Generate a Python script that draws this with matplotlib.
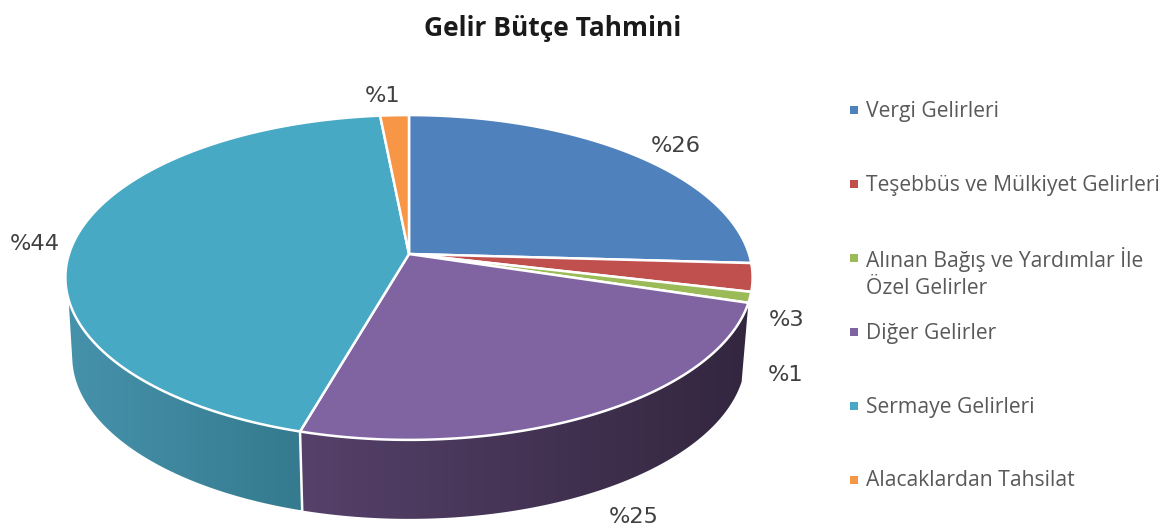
import numpy as np
from matplotlib import pyplot as plt
from matplotlib.colors import LinearSegmentedColormap
from matplotlib.patches import Polygon

title = "Gelir Bütçe Tahmini"
categories = ["Vergi Gelirleri", "Teşebbüs ve Mülkiyet Gelirleri",
              "Alınan Bağış ve Yardımlar İle\nÖzel Gelirler", "Diğer Gelirler",
              "Sermaye Gelirleri", "Alacaklardan Tahsilat"]
values = [25.9, 2.8, 1.05, 24.7, 44.0, 1.55]
value_labels = ["%26", "%3", "%1", "%25", "%44", "%1"]
colors = ["#4f81bd", "#c0504d", "#9bbb59", "#8064a2", "#48a9c5", "#f79646"]
# wall shading, from the right end of a slice to its left end
wall_colors = [None, None, None, ("#33263f", "#56416a"), ("#357a8e", "#4692ab"), None]

label_x = [676, 787, 786, 634, 35, 383]
label_y = [146, 320, 375, 517, 244, 96]
legend_y = [110, 184, 272, 332, 406, 480]

# perspective of the disc
cx, cy = 409, 254
rx, k = 340, 0.1446
ry = 159
depth = 79
base_scale = 0.98
# where the wall leaves the disc on the left, top rim and bottom rim
top_limit, base_limit = 254, 260


def project(theta, x_scale=1.0, dy=0):
    # theta in degrees, clockwise from the top of the pie
    t = np.radians(theta)
    u, v = np.sin(t), np.cos(t)
    return cx + x_scale * rx * u / (1 + k * v), cy + dy - ry * v / (1 + k * v)


fig = plt.figure(figsize=(11.72, 5.32), dpi=100)
ax = fig.add_axes([0, 0, 1, 1])

edges = 360 * np.cumsum([0] + values) / sum(values)

# side walls first, top face goes over them
for i, shades in enumerate(wall_colors):
    if shades is None:
        continue
    top_x, top_y = project(np.linspace(edges[i], min(edges[i + 1], top_limit), 200))
    base_x, base_y = project(np.linspace(min(edges[i + 1], base_limit), edges[i], 200),
                             base_scale, depth)
    wall = Polygon(np.column_stack([np.r_[top_x, base_x], np.r_[top_y, base_y]]),
                   closed=True, facecolor="none", edgecolor="none")
    ax.add_patch(wall)
    # left colour on the left of the image, right colour on the right
    cmap = LinearSegmentedColormap.from_list("wall", [shades[1], shades[0]])
    x_lo = min(top_x.min(), base_x.min())
    x_hi = max(top_x.max(), base_x.max())
    y_lo = min(top_y.min(), base_y.min())
    y_hi = max(top_y.max(), base_y.max())
    im = ax.imshow(np.linspace(0, 1, 256).reshape(1, -1), cmap=cmap, aspect="auto",
                   extent=(x_lo, x_hi, y_hi, y_lo), zorder=2)
    im.set_clip_path(wall)

# white line where two walls meet
x0, y0 = project(edges[4])
x1, y1 = project(edges[4], base_scale, depth)
ax.plot([x0, x1], [y0, y1], color="white", lw=1.8, zorder=3)

for i, c in enumerate(colors):
    steps = np.linspace(edges[i], edges[i + 1], 200)
    xs, ys = project(steps)
    pts = [(cx, cy)] + list(zip(xs, ys))
    ax.add_patch(Polygon(pts, closed=True, facecolor=c, edgecolor="white", lw=1.8,
                         joinstyle="round", zorder=4))

for x, y, s in zip(label_x, label_y, value_labels):
    ax.text(x, y, s, ha="center", va="center", fontsize=16.2, color="#404040",
            family="DejaVu Sans")

for y, c, s in zip(legend_y, colors, categories):
    first_y = y - 14 if "\n" in s else y
    ax.scatter([854], [first_y], marker="s", s=40, color=c, linewidths=0)
    ax.text(866, y + 1, s, ha="left", va="center", fontsize=15.2, color="#595959",
            family="Open Sans", linespacing=1.32)

ax.text(553, 28, title, ha="center", va="center", fontsize=19, fontweight="bold",
        color="#1a1a1a", family="Open Sans")

ax.set_xlim(0, 1172)
ax.set_ylim(532, 0)
ax.axis("off")

fig.savefig("out.png", dpi=100)
